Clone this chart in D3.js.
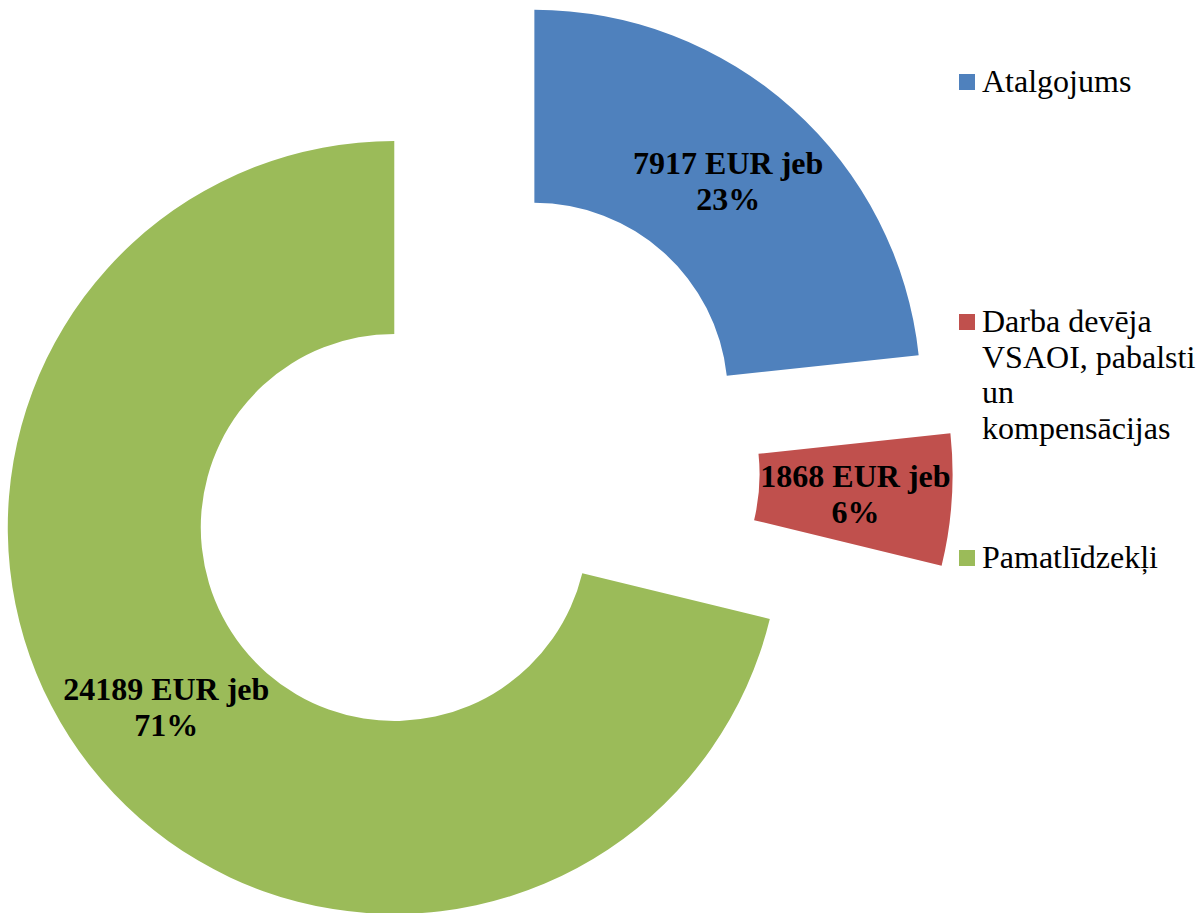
<!DOCTYPE html>
<html>
<head>
<meta charset="utf-8">
<script src="https://cdn.jsdelivr.net/npm/d3@7"></script>
<style>
  body { margin: 0; background: #fff; }
  svg { display: block; font-family: "Liberation Serif", "Times New Roman", serif; }
</style>
</head>
<body>
<svg id="chart" width="1200" height="913"></svg>
<script>
const categories = ["Atalgojums", "Darba devēja VSAOI, pabalsti un kompensācijas", "Pamatlīdzekļi"]
const legendLines = [["Atalgojums"], ["Darba devēja", "VSAOI, pabalsti", "un", "kompensācijas"], ["Pamatlīdzekļi"]]
const values = [7917, 1868, 24189]
const percentLabels = ["23%", "6%", "71%"]
const colors = ["#4F81BD", "#C0504D", "#9BBB59"]

const svg = d3.select('#chart')

const cx = 470
const cy = 468
const outerR = 386.5
const innerR = 193.5
const explode = 96.3

const pie = d3.pie().sort(null).value(d => d)
const arc = d3.arc().innerRadius(innerR).outerRadius(outerR)

const arcs = pie(values)

const offset = (d) => {
    let mid = (d.startAngle + d.endAngle) / 2
    return [explode * Math.sin(mid), -explode * Math.cos(mid)]
}

const slices = svg.append('g')
    .attr('transform', `translate(${cx},${cy})`)
    .selectAll('g')
    .data(arcs)
    .enter()
    .append('g')
    .attr('transform', d => {
        let o = offset(d)
        return `translate(${o[0]},${o[1]})`
    })

slices.append('path')
    .attr('d', arc)
    .attr('fill', (d, i) => colors[i])

// data labels, two lines each
slices.each(function (d, i) {
    let c = arc.centroid(d)
    let t = d3.select(this).append('text')
        .attr('text-anchor', 'middle')
        .attr('font-weight', 'bold')
        .attr('font-size', 32)
        .attr('fill', '#000')
    t.append('tspan').attr('x', c[0]).attr('y', c[1] - 7).text(values[i] + " EUR jeb")
    t.append('tspan').attr('x', c[0]).attr('y', c[1] + 29).text(percentLabels[i])
})

// legend
const legendTop = [92, 332, 568]
const legend = svg.append('g')
    .selectAll('g')
    .data(categories)
    .enter()
    .append('g')

legend.append('rect')
    .attr('x', 959)
    .attr('y', (d, i) => legendTop[i] - 18)
    .attr('width', 16)
    .attr('height', 16)
    .attr('fill', (d, i) => colors[i])

legend.append('text')
    .attr('font-size', 32)
    .attr('fill', '#000')
    .each(function (d, i) {
        let t = d3.select(this)
        legendLines[i].forEach((line, j) => {
            t.append('tspan')
                .attr('x', 982)
                .attr('y', legendTop[i] + j * 35.5)
                .text(line)
        })
    })
</script>
</body>
</html>
